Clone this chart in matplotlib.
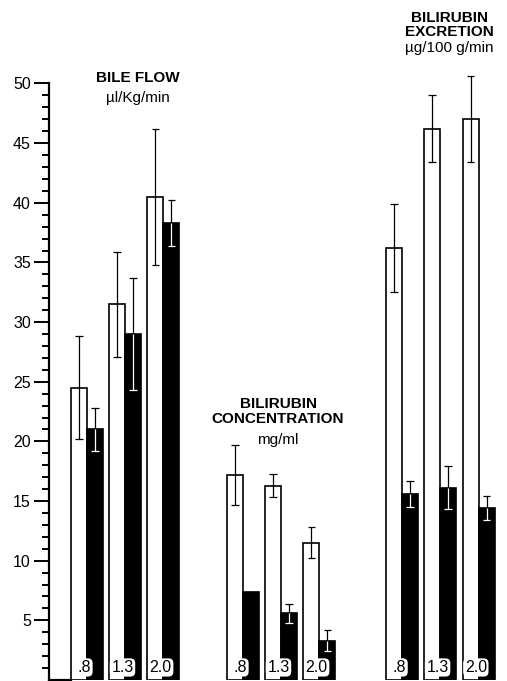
import numpy as np
import matplotlib
matplotlib.use("Agg")
import matplotlib.pyplot as plt

plt.rcParams['font.family'] = ['Liberation Sans', 'DejaVu Sans']

# ---------------- data ----------------
doses = ['.8', '1.3', '2.0']
ytick_values = [5, 10, 15, 20, 25, 30, 35, 40, 45, 50]

bile_white = [24.5, 31.5, 40.5]
bile_white_err = [4.3, 4.4, 5.7]
bile_black = [21.0, 29.0, 38.3]
bile_black_err = [1.8, 4.7, 1.9]

conc_white = [17.2, 16.3, 11.5]
conc_white_err = [2.5, 1.0, 1.3]
conc_black = [7.4, 5.6, 3.3]
conc_black_err = [np.nan, 0.8, 0.9]

exc_white = [36.2, 46.2, 47.0]
exc_white_err = [3.7, 2.8, 3.6]
exc_black = [15.6, 16.1, 14.4]
exc_black_err = [1.1, 1.8, 1.0]

panel_titles = [
    ['BILE FLOW', 'µl/Kg/min'],
    ['BILIRUBIN', 'CONCENTRATION', 'mg/ml'],
    ['BILIRUBIN', 'EXCRETION', 'µg/100 g/min'],
]

# ---------------- figure ----------------
W, H = 507, 681
fig = plt.figure(figsize=(W / 100, H / 100), dpi=100)
left_px = 49
ax = fig.add_axes([left_px / W, 1 / H, (W - left_px) / W, 680 / H])

px_per_unit_y = 11.93
px_per_slot = 39.0
x0_px = 87.0
ax.set_ylim(0, 680 / px_per_unit_y)
xmin = (left_px - x0_px) / px_per_slot
ax.set_xlim(xmin, xmin + (W - left_px) / px_per_slot)

group_base = [0.0, 4.0, 8.08]
bw = 0.41

whites = [bile_white, conc_white, exc_white]
whites_err = [bile_white_err, conc_white_err, exc_white_err]
blacks = [bile_black, conc_black, exc_black]
blacks_err = [bile_black_err, conc_black_err, exc_black_err]

cap_half = 0.1
lw_err = 0.9


def draw_err(x, top, err, upper_color, lower_color):
    if err is None or np.isnan(err):
        return
    ax.vlines(x, top, top + err, color=upper_color, lw=lw_err, zorder=4)
    ax.vlines(x, top - err, top, color=lower_color, lw=lw_err, zorder=4)
    ax.hlines(top + err, x - cap_half, x + cap_half, color=upper_color, lw=lw_err, zorder=4)
    ax.hlines(top - err, x - cap_half, x + cap_half, color=lower_color, lw=lw_err, zorder=4)


for g in range(3):
    pos = np.array([group_base[g] + i * 0.98 for i in range(3)])
    ax.bar(pos - bw / 2, whites[g], width=bw, color='white', edgecolor='black',
           linewidth=1.2, zorder=2)
    ax.bar(pos + bw / 2, blacks[g], width=bw, color='black', edgecolor='black',
           linewidth=1.2, zorder=2)
    for i in range(3):
        draw_err(pos[i] - bw / 2, whites[g][i], whites_err[g][i], 'black', 'black')
        draw_err(pos[i] + bw / 2, blacks[g][i], blacks_err[g][i], 'black', 'white')
        ax.text(pos[i] - 0.07, 1.05, doses[i], ha='center', va='center', fontsize=11.5,
                zorder=5,
                bbox=dict(boxstyle='round,pad=0.1,rounding_size=0.3', fc='white', ec='none'))

# panel titles
title_specs = [
    (1.3, [50.5, 48.8]),
    (4.9, [23.1, 21.9, 20.1]),
    (9.3, [55.5, 54.35, 53.0]),
]
for (xc, ys), lines in zip(title_specs, panel_titles):
    n_caps = len(lines) - 1
    for k, (yy, txt) in enumerate(zip(ys, lines)):
        bold = k < n_caps
        ax.text(xc, yy, txt, ha='center', va='center',
                fontsize=11 if bold else 11,
                fontweight='bold' if bold else 'normal', clip_on=False)

# axes styling
for s in ['top', 'right']:
    ax.spines[s].set_visible(False)
ax.spines['left'].set_linewidth(1.6)
ax.spines['bottom'].set_linewidth(1.6)
ax.spines['bottom'].set_bounds(xmin, group_base[0] - bw)
ax.spines['left'].set_bounds(0, 50)
ax.set_yticks(ytick_values)
ax.set_yticklabels([str(v) for v in ytick_values], fontsize=11.5)
ax.set_yticks(np.arange(1, 50), minor=True)
ax.tick_params(axis='y', which='major', direction='out', length=11, width=1.4, pad=2)
ax.tick_params(axis='y', which='minor', direction='out', length=5, width=1.4)
ax.set_xticks([])

fig.savefig('out.png', dpi=100)
